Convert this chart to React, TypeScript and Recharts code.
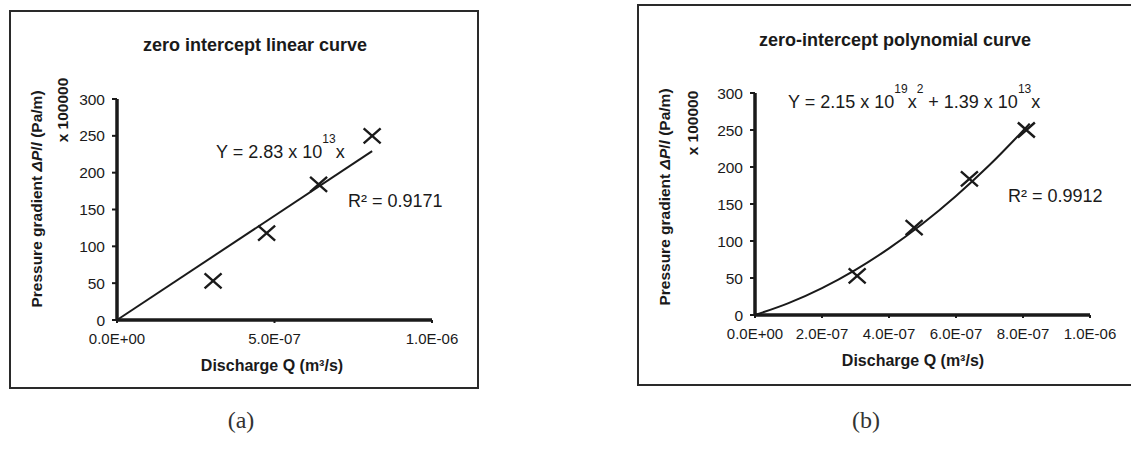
import { ComposedChart, Line, Scatter, XAxis, YAxis } from 'recharts'

// measured points: discharge (m3/s) vs pressure gradient (x 1e5 Pa/m)
const dischargeQ = [3.05e-7, 4.75e-7, 6.4e-7, 8.1e-7]
const pressureGradient = [53, 118, 184, 250]

// fitted coefficients as printed on each panel (Pa/m)
const linearSlope = 2.83e13
const polyA = 2.15e19
const polyB = 1.39e13
const gradientUnit = 1e5

const linearFitQ = [0, 8.1e-7]
const polyFitQ = [0, 1e-7, 2e-7, 3e-7, 4e-7, 5e-7, 6e-7, 7e-7, 8.2e-7]

const gradientTicks = [0, 50, 100, 150, 200, 250, 300]
const linearQTicks = [0, 5e-7, 1e-6]
const polyQTicks = [0, 2e-7, 4e-7, 6e-7, 8e-7, 1e-6]

const points = dischargeQ.map((q, i) => ({ q, dp: pressureGradient[i] }))
const linearFit = linearFitQ.map((q) => ({ q, dp: (linearSlope * q) / gradientUnit }))
const polyFit = polyFitQ.map((q) => ({ q, dp: (polyA * q * q + polyB * q) / gradientUnit }))

const SANS = 'Liberation Sans, Arial, sans-serif'
const INK = '#1a1a1a'

const sci = (v: number) => {
  if (v === 0) return '0.0E+00'
  const [m, e] = v.toExponential(1).split('e')
  const n = Number(e)
  return `${m}E${n < 0 ? '-' : '+'}${String(Math.abs(n)).padStart(2, '0')}`
}

const Cross = (props: any) => {
  const { cx, cy } = props
  const rx = 8.5
  const ry = 7.5
  return (
    <path
      d={`M${cx - rx},${cy - ry}L${cx + rx},${cy + ry}M${cx - rx},${cy + ry}L${cx + rx},${cy - ry}`}
      stroke={INK}
      strokeWidth={2.4}
      fill="none"
    />
  )
}

type PanelProps = {
  left: number
  width: number
  margin: { top: number; right: number; bottom: number; left: number }
  qTicks: number[]
  fit: { q: number; dp: number }[]
  smooth?: boolean
}

function Panel({ left, width, margin, qTicks, fit, smooth }: PanelProps) {
  return (
    <div style={{ position: 'absolute', left, top: 0 }}>
      <ComposedChart width={width} height={454} margin={margin}>
        <XAxis
          dataKey="q"
          type="number"
          domain={[0, 1e-6]}
          ticks={qTicks}
          tickFormatter={sci}
          height={30}
          axisLine={{ stroke: INK, strokeWidth: 3.5 }}
          tickLine={{ stroke: INK, strokeWidth: 2 }}
          tickSize={3}
          tickMargin={10}
          tick={{ fill: INK, fontSize: 15, fontFamily: SANS }}
        />
        <YAxis
          type="number"
          domain={[0, 300]}
          ticks={gradientTicks}
          width={40}
          axisLine={{ stroke: INK, strokeWidth: 3.5 }}
          tickLine={{ stroke: INK, strokeWidth: 2 }}
          tickSize={5}
          tickMargin={7}
          tick={{ fill: INK, fontSize: 15.5, fontFamily: SANS }}
        />
        <Line
          data={fit}
          dataKey="dp"
          type={smooth ? 'monotone' : 'linear'}
          stroke={INK}
          strokeWidth={2}
          dot={false}
          activeDot={false}
          isAnimationActive={false}
        />
        <Scatter data={points} dataKey="dp" shape={Cross} isAnimationActive={false} />
      </ComposedChart>
    </div>
  )
}

const sup = { fontSize: 12 }

export default function App() {
  return (
    <div style={{ position: 'absolute', left: 0, top: 0, width: 1131, height: 454, background: '#fff' }}>
      <svg width={1131} height={454} style={{ position: 'absolute', left: 0, top: 0 }}>
        <rect x={10} y={11} width={468} height={377} fill="none" stroke="#2a2a2a" strokeWidth={2} />
        <rect x={638} y={5} width={520} height={380} fill="none" stroke="#2a2a2a" strokeWidth={2} />

        <g fontFamily={SANS} fill={INK}>
          {/* left panel */}
          <text x={255} y={45} textAnchor="middle" dominantBaseline="central" fontSize={18} fontWeight="bold">
            zero intercept linear curve
          </text>
          <text
            transform="translate(36,199) rotate(-90)"
            textAnchor="middle"
            dominantBaseline="central"
            fontSize={15.5}
            fontWeight="bold"
          >
            Pressure gradient <tspan fontStyle="italic">ΔP</tspan>/<tspan fontStyle="italic">l</tspan> (Pa/m)
          </text>
          <text
            transform="translate(62,110) rotate(-90)"
            textAnchor="middle"
            dominantBaseline="central"
            fontSize={15.5}
            fontWeight="bold"
          >
            x 100000
          </text>
          <text x={272} y={365} textAnchor="middle" dominantBaseline="central" fontSize={16} fontWeight="bold">
            Discharge Q (m³/s)
          </text>
          <text x={216} y={158} fontSize={18}>
            Y = 2.83 x 10
            <tspan dy={-15} style={sup}>13</tspan>
            <tspan dy={15}>x</tspan>
          </text>
          <text x={348} y={207} fontSize={18}>
            R² = 0.9171
          </text>

          {/* right panel */}
          <text x={895} y={40} textAnchor="middle" dominantBaseline="central" fontSize={18} fontWeight="bold">
            zero-intercept polynomial curve
          </text>
          <text
            transform="translate(664,197) rotate(-90)"
            textAnchor="middle"
            dominantBaseline="central"
            fontSize={15.5}
            fontWeight="bold"
          >
            Pressure gradient <tspan fontStyle="italic">ΔP</tspan>/<tspan fontStyle="italic">l</tspan> (Pa/m)
          </text>
          <text
            transform="translate(692,123) rotate(-90)"
            textAnchor="middle"
            dominantBaseline="central"
            fontSize={15.5}
            fontWeight="bold"
          >
            x 100000
          </text>
          <text x={913} y={360} textAnchor="middle" dominantBaseline="central" fontSize={16} fontWeight="bold">
            Discharge Q (m³/s)
          </text>
          <text x={788} y={108} fontSize={18}>
            Y = 2.15 x 10
            <tspan dy={-15} style={sup}>19</tspan>
            <tspan dy={15}>x</tspan>
            <tspan dy={-15} style={sup}>2</tspan>
            <tspan dy={15}> + 1.39 x 10</tspan>
            <tspan dy={-15} style={sup}>13</tspan>
            <tspan dy={15}>x</tspan>
          </text>
          <text x={1008} y={202} fontSize={18}>
            R² = 0.9912
          </text>
        </g>

        <g fontFamily="Liberation Serif, Times New Roman, serif" fill="#333" fontSize={24}>
          <text x={241} y={420} textAnchor="middle" dominantBaseline="central">(a)</text>
          <text x={866} y={420} textAnchor="middle" dominantBaseline="central">(b)</text>
        </g>
      </svg>

      <Panel
        left={0}
        width={560}
        margin={{ top: 99, right: 128, bottom: 104, left: 77 }}
        qTicks={linearQTicks}
        fit={linearFit}
      />
      <Panel
        left={560}
        width={571}
        margin={{ top: 93, right: 41, bottom: 109, left: 155 }}
        qTicks={polyQTicks}
        fit={polyFit}
        smooth
      />
    </div>
  )
}
